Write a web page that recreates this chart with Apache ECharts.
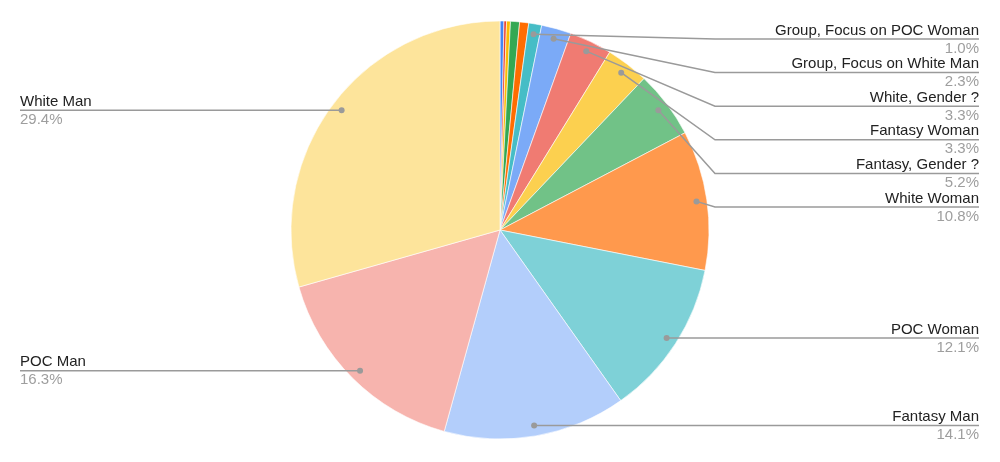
<!DOCTYPE html>
<html><head><meta charset="utf-8">
<script src="https://cdn.jsdelivr.net/npm/echarts@6/dist/echarts.min.js"></script>
<style>html,body{margin:0;padding:0;background:#fff}#c{width:1000px;height:462px}</style>
</head><body><div id="c"></div>
<script>
// ---- data ----
const categories = ['Other 1', 'Other 2', 'Other 3', 'Other 4', 'Other 5',
  'Group, Focus on POC Woman', 'Group, Focus on White Man', 'White, Gender ?',
  'Fantasy Woman', 'Fantasy, Gender ?', 'White Woman', 'POC Woman',
  'Fantasy Man', 'POC Man', 'White Man'];
const values = [0.3, 0.2, 0.3, 0.7, 0.7, 1.0, 2.3, 3.3, 3.3, 5.2, 10.8, 12.1, 14.1, 16.3, 29.4];
const colors = ['#4285f4', '#ea4335', '#fbbc04', '#34a853', '#ff6d01', '#46bdc6',
  '#7baaf7', '#f07b72', '#fcd04f', '#71c287', '#ff994d', '#7ed1d7',
  '#b3cefb', '#f7b4ae', '#fde49b'];

// ---- layout constants ----
const CX = 500, CY = 230, R = 209;
const DOT = 0.95, BEND = 6, EDGE_L = 20, EDGE_R = 979, GAP = 33.6, TOP = 39;
const MIN_ANGLE = 3;
const LINE_COLOR = '#9a9a9a';
const FONT = "'Liberation Sans', Arial, sans-serif";

const total = values.reduce((a, b) => a + b, 0);
const layouts = {};
let acc = 0;
const items = [];
values.forEach((v, i) => {
  const mid = acc + v / 2; acc += v;
  if (v / total * 360 < MIN_ANGLE) return;
  const th = mid / total * Math.PI * 2;
  const s = Math.sin(th), c = Math.cos(th);
  items.push({ i, mid, right: s >= 0, dy: CY - DOT * R * c });
});
[true, false].forEach(side => {
  const list = items.filter(it => it.right === side).sort((a, b) => a.dy - b.dy);
  let prev = -Infinity;
  list.forEach(it => {
    const y = Math.max(it.dy, prev + GAP, TOP);
    prev = y;
    layouts[it.i] = {
      right: side, ly: y,
      bx: side ? CX + R + BEND : CX - R - BEND,
      ex: side ? EDGE_R : EDGE_L
    };
  });
});

const chart = echarts.init(document.getElementById('c'), null, { renderer: 'canvas' });
chart.setOption({
  animation: false,
  backgroundColor: '#ffffff',
  textStyle: { fontFamily: FONT },
  polar: { center: [CX, CY], radius: R },
  angleAxis: { type: 'value', min: 0, max: total, startAngle: 90, clockwise: true, show: false,
    splitLine: { show: false }, axisLine: { show: false } },
  radiusAxis: { type: 'value', min: 0, max: 1, show: false, splitLine: { show: false } },
  series: [{
    type: 'pie',
    center: [CX, CY],
    radius: R,
    startAngle: 90,
    clockwise: true,
    minShowLabelAngle: MIN_ANGLE,
    emphasis: { disabled: true },
    itemStyle: { borderColor: '#ffffff', borderWidth: 0.6 },
    data: categories.map((n, i) => ({ name: n, value: values[i], itemStyle: { color: colors[i] } })),
    label: {
      position: 'outside',
      formatter: p => '{n|' + p.name + '}\n{p|' + Number(p.value).toFixed(1) + '%}',
      rich: {
        n: { fontSize: 15, color: '#222222', lineHeight: 18, fontFamily: FONT },
        p: { fontSize: 15, color: '#9e9e9e', lineHeight: 18, fontFamily: FONT }
      }
    },
    labelLine: { show: false },
    labelLayout: function (params) {
      const L = layouts[params.dataIndex];
      if (!L) return {};
      return {
        x: L.ex, y: L.ly + 0.5,
        align: L.right ? 'right' : 'left',
        verticalAlign: 'middle'
      };
    }
  }, {
    type: 'custom',
    coordinateSystem: 'polar',
    silent: true,
    z: 5,
    data: items.map(it => [DOT, it.mid, it.i]),
    renderItem: function (params, api) {
      const p = api.coord([api.value(0), api.value(1)]);
      const L = layouts[api.value(2)];
      return {
        type: 'group',
        children: [{
          type: 'polyline',
          shape: { points: [p, [L.bx, L.ly], [L.ex, L.ly]] },
          style: { stroke: LINE_COLOR, lineWidth: 1.5, fill: null }
        }, {
          type: 'circle',
          shape: { cx: p[0], cy: p[1], r: 3 },
          style: { fill: LINE_COLOR }
        }]
      };
    }
  }]
});
</script>
</body></html>
